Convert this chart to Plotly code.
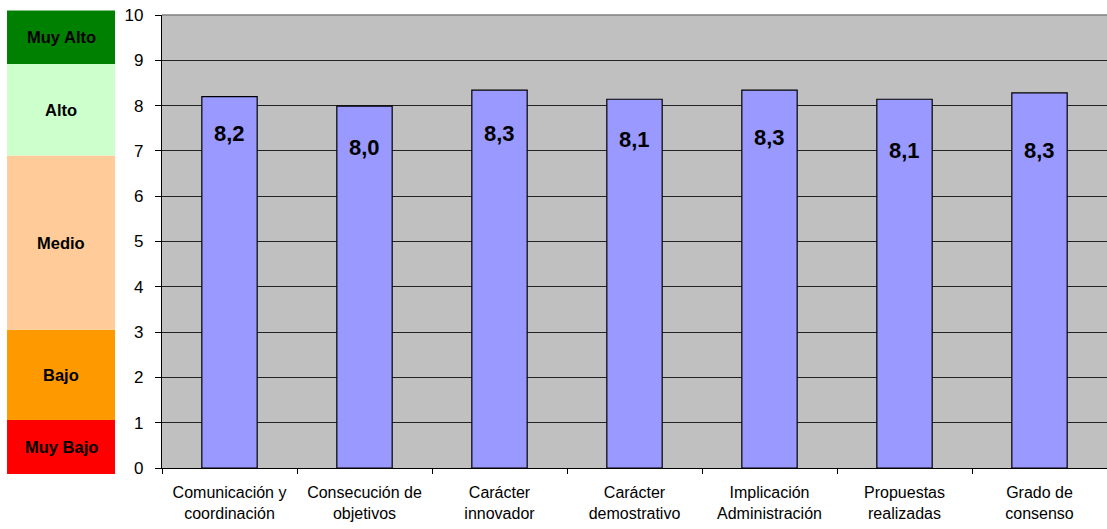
import plotly.graph_objects as go

categories = [
    "Comunicación y<br>coordinación",
    "Consecución de<br>objetivos",
    "Carácter<br>innovador",
    "Carácter<br>demostrativo",
    "Implicación<br>Administración",
    "Propuestas<br>realizadas",
    "Grado de<br>consenso",
]
values = [8.2, 7.99, 8.34, 8.14, 8.34, 8.14, 8.28]

band_names = ["Muy Bajo", "Bajo", "Medio", "Alto", "Muy Alto"]
band_edges = [-0.13, 1.06, 3.05, 6.9, 8.92, 10.1]
band_colors = ["#FF0000", "#FF9900", "#FFCC99", "#CCFFCC", "#008000"]

# label placement (pixels below bar top) – layout only
label_shift = [37, 41, 43, 40, 47, 51, 58]

fmt = lambda v: f"{v:.1f}".replace(".", ",")

fig = go.Figure()
fig.add_trace(go.Bar(
    x=categories, y=values,
    marker=dict(color="#9999FF", line=dict(color="black", width=1.2)),
    width=0.41,
    hoverinfo="skip",
))

FONT = "Liberation Sans, Arial, sans-serif"
for c, v, s in zip(categories, values, label_shift):
    fig.add_annotation(x=c, y=v, yshift=-s, text=f"<b>{fmt(v)}</b>",
                       showarrow=False, font=dict(family=FONT, size=22, color="black"))

ymin, ymax = 0, 10
px0, px1 = -0.164, -0.0497
for name, lo, hi, col in zip(band_names, band_edges[:-1], band_edges[1:], band_colors):
    y0 = (lo - ymin) / (ymax - ymin)
    y1 = (hi - ymin) / (ymax - ymin)
    fig.add_shape(type="rect", xref="paper", yref="paper", x0=px0, x1=px1, y0=y0, y1=y1,
                  fillcolor=col, line=dict(width=0), layer="below")
    fig.add_annotation(xref="paper", yref="paper", x=(px0 + px1) / 2, y=(y0 + y1) / 2,
                       xanchor="center", yanchor="middle",
                       text=f"<b>{name}</b>", showarrow=False,
                       font=dict(family=FONT, size=16.5, color="black"))

fig.add_shape(type="line", xref="paper", yref="paper", x0=0, x1=1, y0=1, y1=1,
              line=dict(color="#808080", width=1.5))

fig.update_layout(
    width=1107, height=529,
    margin=dict(l=162, r=0, t=15, b=61),
    paper_bgcolor="white", plot_bgcolor="#C0C0C0",
    showlegend=False,
    font=dict(family=FONT, size=16, color="black"),
    bargap=0.59,
)
fig.update_yaxes(range=[ymin, ymax], dtick=1, showgrid=True, gridcolor="#222222", gridwidth=1,
                 showline=True, linecolor="black", linewidth=1.2,
                 ticks="outside", ticklen=6, tickcolor="black", ticklabelstandoff=8,
                 tickfont=dict(size=17), zeroline=False, fixedrange=True)
fig.update_xaxes(showline=True, linecolor="black", linewidth=1.2, ticks="outside",
                 tickson="boundaries", ticklen=5, tickcolor="black", ticklabelstandoff=10,
                 tickfont=dict(size=16), showgrid=False, fixedrange=True)

fig.write_html("out.html", config={"displayModeBar": False},
               post_script="document.body.style.margin='0';document.body.style.overflow='hidden';")
